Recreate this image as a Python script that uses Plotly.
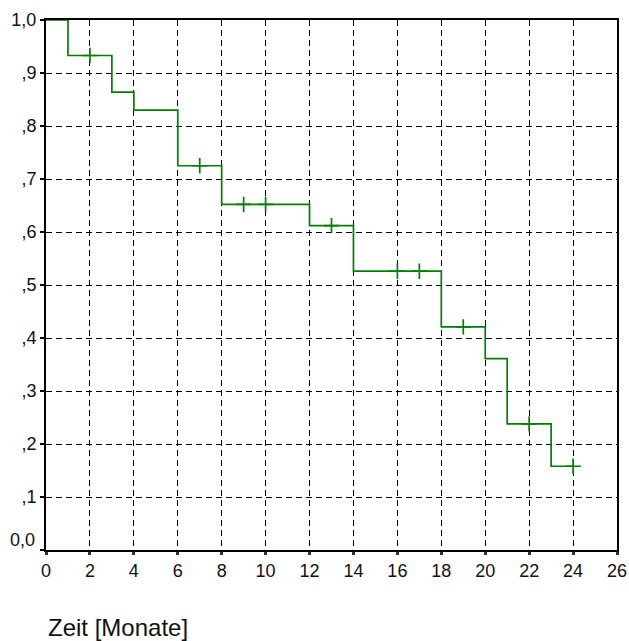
import plotly.graph_objects as go

# Kaplan-Meier step data
step_times = [0, 1, 3, 4, 6, 8, 12, 14, 18, 20, 21, 23, 24]
survival = [1.0, 0.933, 0.864, 0.830, 0.725, 0.652, 0.612, 0.526, 0.421, 0.361, 0.238, 0.158, 0.158]
censor_times = [2, 7, 9, 10, 13, 16, 17, 19, 22, 24]

x_ticks = list(range(0, 27, 2))
y_ticks = [0.0, 0.1, 0.2, 0.3, 0.4, 0.5, 0.6, 0.7, 0.8, 0.9, 1.0]
y_labels = ["", ",1", ",2", ",3", ",4", ",5", ",6", ",7", ",8", ",9", "1,0"]
x_title = "Zeit [Monate]"


def surv_at(t):
    val = survival[0]
    for st, sv in zip(step_times, survival):
        if st <= t:
            val = sv
    return val


censor_y = [surv_at(t) for t in censor_times]

GREEN = "#008000"
FONT = "Liberation Sans, Arial, sans-serif"
TXT = "#111111"

fig = go.Figure()
fig.add_trace(go.Scatter(
    x=step_times, y=survival, mode="lines", line_shape="hv",
    line=dict(color=GREEN, width=1.7), hoverinfo="skip", showlegend=False,
))
fig.add_trace(go.Scatter(
    x=censor_times, y=censor_y, mode="markers",
    marker=dict(symbol="cross-thin-open", size=11, color=GREEN,
                line=dict(color=GREEN, width=1.7)),
    hoverinfo="skip", showlegend=False,
))

fig.update_layout(
    width=629, height=641,
    margin=dict(l=46, r=12, t=20, b=91, autoexpand=False),
    paper_bgcolor="white", plot_bgcolor="white",
    font=dict(family=FONT, size=18, color=TXT),
    showlegend=False,
)
fig.update_xaxes(
    range=[0, 26], tickvals=x_ticks, ticktext=[str(v) for v in x_ticks],
    showgrid=True, gridcolor="black", gridwidth=1, griddash="6px,4px",
    showline=True, linecolor="black", linewidth=2, mirror=True,
    ticks="outside", ticklen=3, tickwidth=3, tickcolor="#333333",
    tickfont=dict(family=FONT, size=18, color=TXT),
    zeroline=False, fixedrange=True, automargin=False,
)
fig.update_yaxes(
    range=[0, 1], tickvals=y_ticks, ticktext=y_labels,
    showgrid=True, gridcolor="black", gridwidth=1, griddash="6px,4px",
    showline=True, linecolor="black", linewidth=2, mirror=True,
    ticks="outside", ticklen=4, tickwidth=2, tickcolor="black",
    tickfont=dict(family=FONT, size=18, color=TXT),
    zeroline=False, fixedrange=True, automargin=False,
)
# "0,0" label placed slightly above the axis as in the reference
fig.add_annotation(
    x=0, y=0, xref="paper", yref="y", text="0,0", showarrow=False,
    xanchor="right", yanchor="middle", xshift=-9, yshift=10,
    font=dict(family=FONT, size=18, color=TXT),
)
fig.add_annotation(
    x=0, y=-0.147, xref="paper", yref="paper", text=x_title, showarrow=False,
    xanchor="left", yanchor="middle",
    font=dict(family=FONT, size=24, color=TXT),
)

# remove the default page margin so the 629x641 figure fills the window exactly
page_fix = (
    "document.body.style.margin='0';"
    "document.body.style.overflow='hidden';"
    "document.documentElement.style.overflow='hidden';"
)
fig.write_html("out.html", post_script=page_fix,
               config={"displayModeBar": False})
